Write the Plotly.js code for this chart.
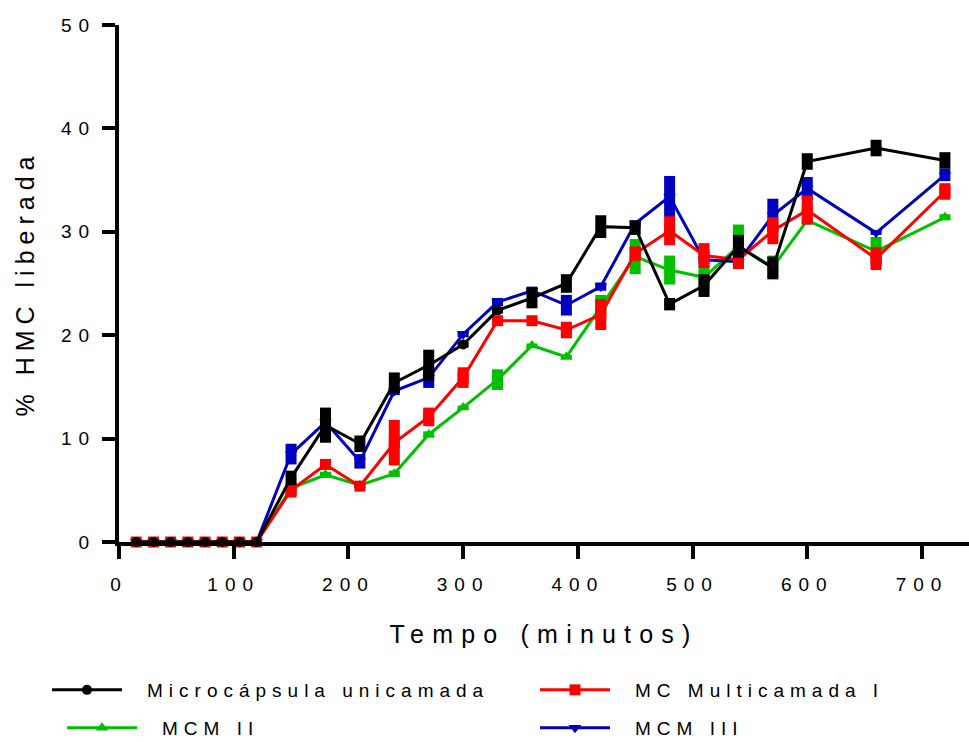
<!DOCTYPE html>
<html>
<head>
<meta charset="utf-8">
<script src="https://cdn.plot.ly/plotly-3.0.1.min.js"></script>
<style>
  html, body { margin: 0; padding: 0; background: #fff; }
  #chart { width: 969px; height: 742px; }
  .xtick text, .ytick text { letter-spacing: 7px; }
  text.xtitle { letter-spacing: 8.2px; }
  text.ytitle { letter-spacing: 6px; }
  .infolayer [class^="legend"] text { letter-spacing: 6px; transform: translate(20px, 0); }
</style>
</head>
<body>
<div id="chart"></div>
<script>
// Sampling times (minutes)
const tempo = [15, 30, 45, 60, 75, 90, 105, 120, 150, 180, 210, 240, 270, 300, 330, 360, 390, 420, 450, 480, 510, 540, 570, 600, 660, 720];

// % HMC released, mean and error (half-range) per formulation
const unicamada    = [0, 0, 0, 0, 0, 0, 0, 0, 6.2, 11.3, 9.5, 15.4, 17.1, 19.1, 22.4, 23.6, 25.0, 30.5, 30.4, 23.0, 24.8, 28.6, 26.5, 36.8, 38.1, 36.9];
const unicamadaErr = [0, 0, 0, 0, 0, 0, 0, 0, 0.7, 1.7, 0.8, 1.0, 1.5, 0.3, 0.3, 1.0, 0.9, 1.1, 0.7, 0.6, 1.1, 1.1, 1.1, 0.8, 0.8, 0.8];

const multicamadaI    = [0, 0, 0, 0, 0, 0, 0, 0, 5.0, 7.5, 5.4, 9.6, 12.1, 15.9, 21.4, 21.4, 20.5, 22.0, 27.9, 30.1, 27.7, 27.3, 30.1, 32.1, 27.4, 33.9];
const multicamadaIErr = [0, 0, 0, 0, 0, 0, 0, 0, 0.7, 0.2, 0.1, 2.2, 0.9, 1.0, 0.3, 0.2, 0.8, 1.5, 0.7, 1.4, 1.2, 0.9, 1.3, 1.4, 1.1, 0.8];

const mcmII    = [0, 0, 0, 0, 0, 0, 0, 0, 5.2, 6.5, 5.5, 6.6, 10.4, 13.0, 15.7, 19.0, 17.9, 22.8, 27.6, 26.3, 25.6, 28.6, 26.6, 31.1, 28.1, 31.4];
const mcmIIErr = [0, 0, 0, 0, 0, 0, 0, 0, 0.3, 0.3, 0.2, 0.3, 0.3, 0.2, 1.0, 0.2, 0.2, 1.1, 1.7, 1.4, 1.2, 2.1, 1.1, 0.4, 1.4, 0.3];

const mcmIII    = [0, 0, 0, 0, 0, 0, 0, 0, 8.5, 11.6, 7.8, 14.6, 15.9, 20.1, 23.2, 24.3, 22.9, 24.7, 30.8, 33.4, 27.3, 27.1, 31.6, 34.2, 29.9, 35.5];
const mcmIIIErr = [0, 0, 0, 0, 0, 0, 0, 0, 1.0, 0.4, 0.7, 0.4, 1.0, 0.3, 0.4, 0.4, 1.0, 0.4, 0.3, 2.0, 0.4, 0.3, 1.6, 1.1, 0.2, 0.6];

const nomes = ['Microcápsula unicamada', 'MC Multicamada I', 'MCM II', 'MCM III'];
const cores = ['#000000', '#ff0000', '#00c000', '#0000c0'];

const xTicks = [0, 100, 200, 300, 400, 500, 600, 700];
const yTicks = [0, 10, 20, 30, 40, 50];

function serie(nome, y, err, cor, simbolo, tamanho, legenda, ordem, largura) {
  return {
    type: 'scatter',
    mode: 'lines+markers',
    name: nome,
    x: tempo,
    y: y,
    legend: legenda,
    legendrank: ordem,
    legendwidth: largura,
    cliponaxis: false,
    line: { color: cor, width: 3 },
    marker: { color: cor, symbol: simbolo, size: tamanho },
    error_y: { type: 'data', array: err, visible: true, color: cor, thickness: 11, width: 0 }
  };
}

// drawing order: green, blue, red, black on top
const traces = [
  serie(nomes[2], mcmII, mcmIIErr, cores[2], 'triangle-up', 11, 'legend2', 1, 388),
  serie(nomes[3], mcmIII, mcmIIIErr, cores[3], 'triangle-down', 11, 'legend2', 2, 300),
  serie(nomes[1], multicamadaI, multicamadaIErr, cores[1], 'square', 11, 'legend', 2, 330),
  serie(nomes[0], unicamada, unicamadaErr, cores[0], 'circle', 10, 'legend', 1, 403)
];

const fonte = { family: 'Liberation Sans, Arial, sans-serif', color: '#000' };

// plot area: left 119 px, bottom at 542 px, height 517 px
function legendaEm(px, py) {
  return {
    orientation: 'h',
    traceorder: 'normal',
    x: (px - 119) / 850, y: (542 - py) / 517,
    xanchor: 'left', yanchor: 'middle',
    itemwidth: 70,
    bgcolor: 'rgba(0,0,0,0)', borderwidth: 0,
    font: Object.assign({ size: 19 }, fonte)
  };
}

const layout = {
  width: 969,
  height: 742,
  paper_bgcolor: '#fff',
  plot_bgcolor: '#fff',
  showlegend: true,
  margin: { l: 119, r: 0, t: 25, b: 200, autoexpand: false },
  font: fonte,
  xaxis: {
    range: [0, 741],
    tickvals: xTicks,
    ticks: 'outside', ticklen: 13, tickwidth: 4, tickcolor: '#000',
    ticklabelstandoff: 9,
    showline: true, linewidth: 4, linecolor: '#000',
    showgrid: false, zeroline: false,
    tickfont: Object.assign({ size: 19 }, fonte),
    title: { text: 'Tempo (minutos)', font: Object.assign({ size: 25 }, fonte), standoff: 33 }
  },
  yaxis: {
    range: [0, 50],
    tickvals: yTicks,
    ticks: 'outside', ticklen: 13, tickwidth: 4, tickcolor: '#000',
    ticklabelstandoff: 2,
    showline: true, linewidth: 4, linecolor: '#000',
    showgrid: false, zeroline: false,
    tickfont: Object.assign({ size: 19 }, fonte),
    title: { text: '% HMC liberada', font: Object.assign({ size: 25 }, fonte), standoff: 20 }
  },
  legend: legendaEm(47, 690),
  legend2: legendaEm(62, 728)
};

Plotly.newPlot('chart', traces, layout, { displayModeBar: false, staticPlot: true });
</script>
</body>
</html>
